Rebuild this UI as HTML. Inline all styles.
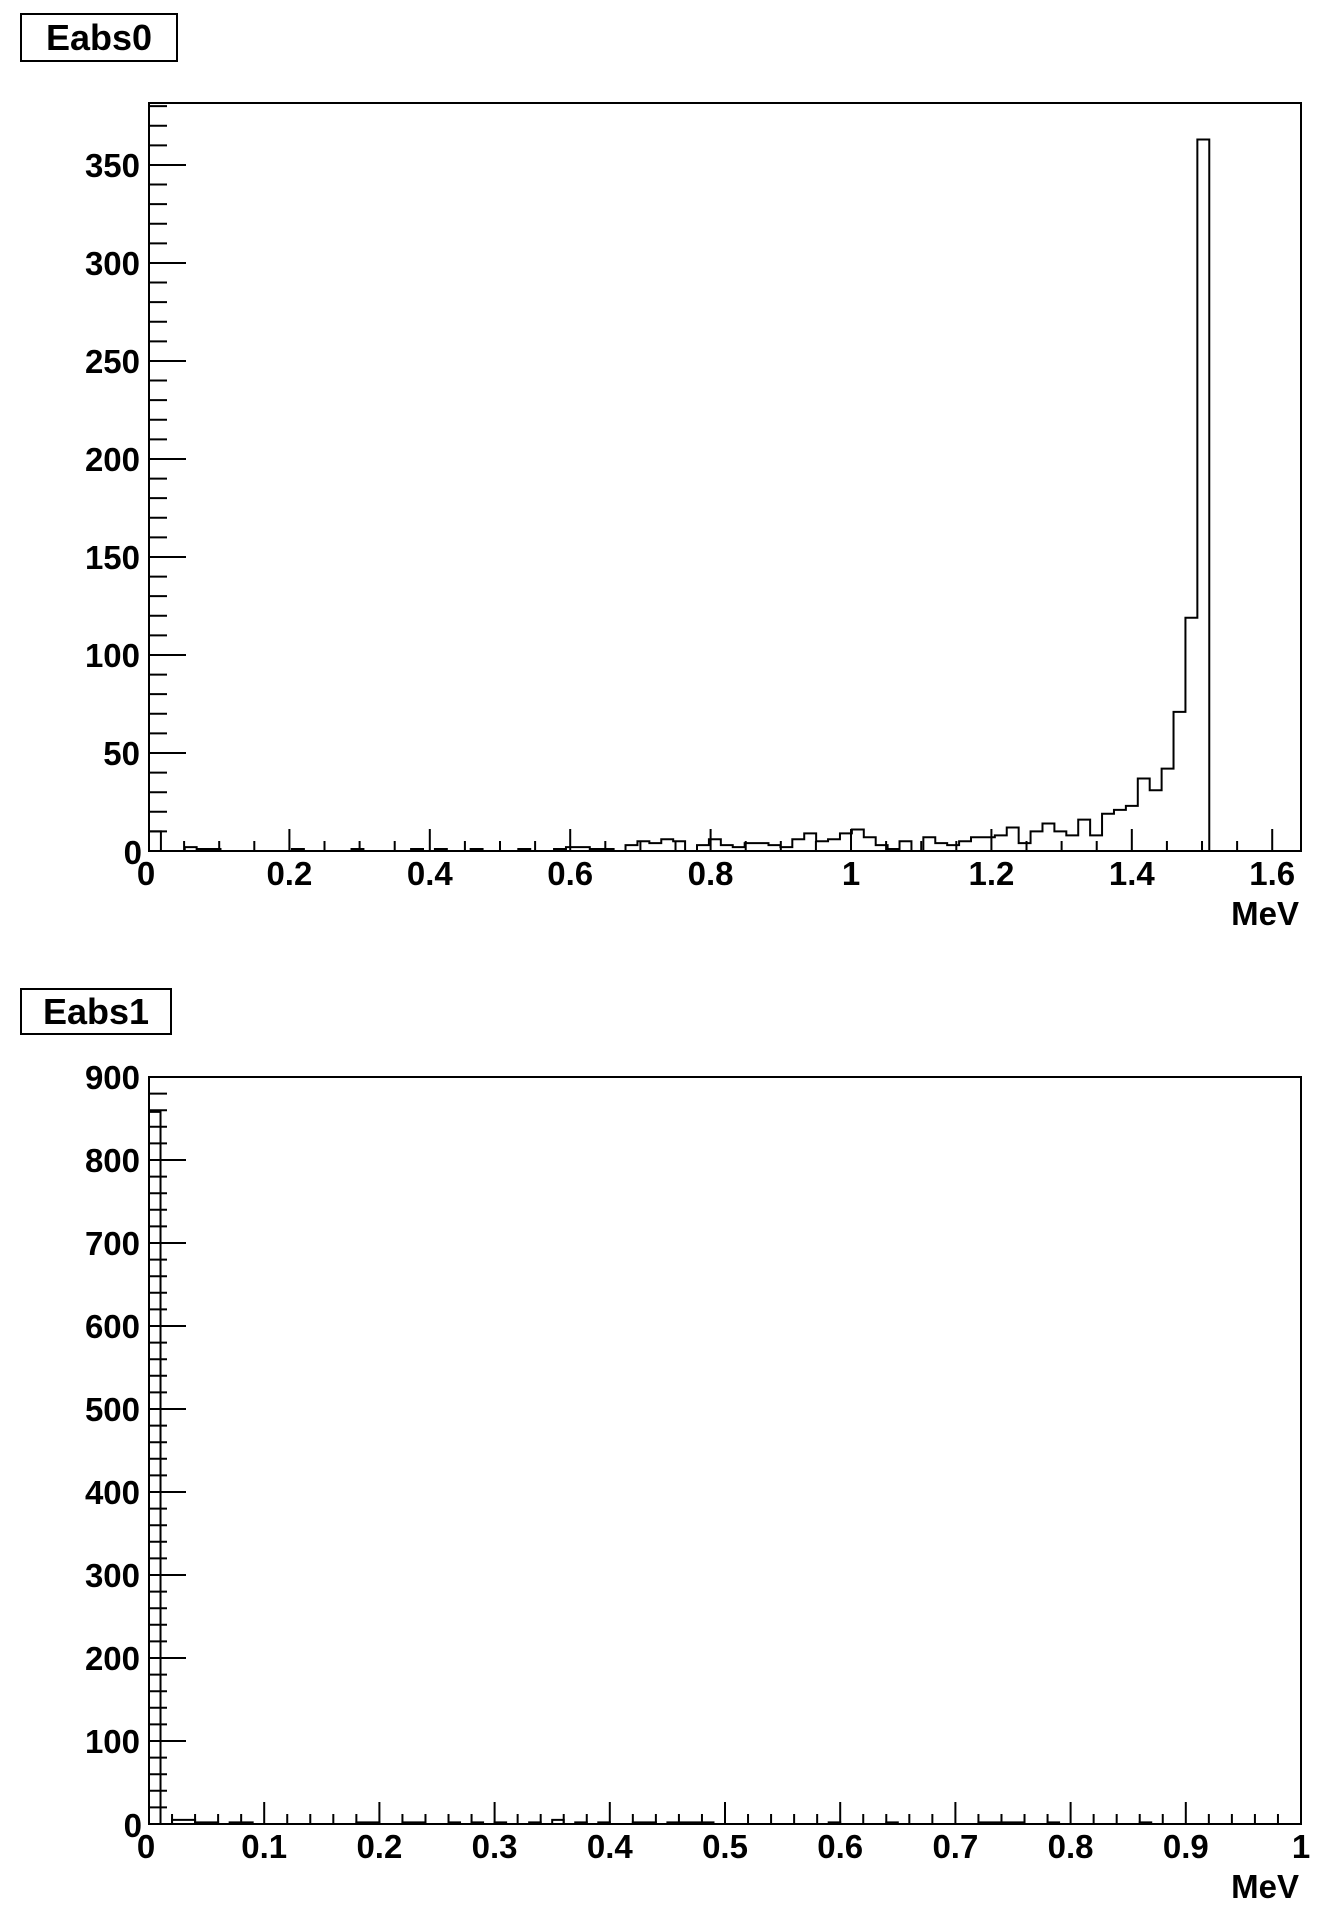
<!DOCTYPE html>
<html><head><meta charset="utf-8"><style>
html,body{margin:0;padding:0;background:#fff;}
svg{display:block;}
text{font-family:"Liberation Sans",Arial,sans-serif;font-weight:bold;fill:#000;}
</style></head><body>
<svg id="chart" width="1336" height="1912" viewBox="0 0 1336 1912" xmlns="http://www.w3.org/2000/svg">
<g>
<rect x="21" y="14" width="156" height="47" fill="#fff" stroke="#000" stroke-width="2"/>
<text x="99" y="50" font-size="36" text-anchor="middle">Eabs0</text>
</g>
<g>
<rect x="21" y="989" width="150" height="45" fill="#fff" stroke="#000" stroke-width="2"/>
<text x="96" y="1024" font-size="36" text-anchor="middle">Eabs1</text>
</g>
<g id="p0"></g>
<g id="p1"></g>
</svg>
<script>
// ---- Eabs0 data ----
const h0BinWidth = 0.01697;
const h0Values = [10,0,0,2,1,1,0,0,0,0,0,0,1,0,0,0,0,1,0,0,0,0,1,0,1,0,0,1,0,0,0,1,0,0,1,2,2,1,1,0,3,5,4,6,5,0,3,6,3,2,4,4,3,2,6,9,5,6,9,11,7,3,1,5,0,7,4,3,5,7,7,8,12,4,10,14,10,8,16,8,19,21,23,37,31,42,71,119,363];
const h0XTicks = [0,0.2,0.4,0.6,0.8,1,1.2,1.4,1.6];
const h0XTickLabels = ["0","0.2","0.4","0.6","0.8","1","1.2","1.4","1.6"];
const h0YTicks = [0,50,100,150,200,250,300,350];
const h0YTickLabels = ["0","50","100","150","200","250","300","350"];
// ---- Eabs1 data ----
const h1BinWidth = 0.01;
const h1Values = [858,0,5,5,2,2,0,2,2,0,0,0,0,0,0,0,0,0,2,2,0,0,2,2,0,0,2,0,2,0,2,0,0,2,0,5,0,2,0,2,0,0,2,2,0,2,2,2,2,0,0,0,0,0,0,0,0,0,0,2,0,0,0,0,2,0,0,0,0,0,0,0,2,2,2,2,0,0,2,0,0,0,0,0,0,0,2,0,0,0,0,0,0,0,0,0,0,0,0,0];
const h1XTicks = [0,0.1,0.2,0.3,0.4,0.5,0.6,0.7,0.8,0.9,1];
const h1XTickLabels = ["0","0.1","0.2","0.3","0.4","0.5","0.6","0.7","0.8","0.9","1"];
const h1YTicks = [0,100,200,300,400,500,600,700,800,900];
const h1YTickLabels = ["0","100","200","300","400","500","600","700","800","900"];

const NS="http://www.w3.org/2000/svg";
function mk(parent,tag,attrs){const e=document.createElementNS(NS,tag);for(const k in attrs)e.setAttribute(k,attrs[k]);parent.appendChild(e);return e;}

function drawPlot(g,cfg){
  const L=149,R=1301,T=cfg.top,B=cfg.bottom;
  const xs=v=>L+(v-cfg.xmin)/(cfg.xmax-cfg.xmin)*(R-L);
  const ys=v=>B-(v-cfg.ymin)/(cfg.ymax-cfg.ymin)*(B-T);
  // histogram
  let d="M"+xs(0)+","+ys(0);
  cfg.values.forEach((v,i)=>{
    const x0=xs(i*cfg.bw),x1=xs((i+1)*cfg.bw);
    d+=" L"+x0+","+ys(v)+" L"+x1+","+ys(v);
  });
  d+=" L"+xs(cfg.values.length*cfg.bw)+","+ys(0);
  const p=mk(g,"path",{d:d,fill:"none",stroke:"#000","stroke-width":"2"});
  
  
  // frame
  const f=mk(g,"rect",{x:L,y:T,width:R-L,height:B-T,fill:"none",stroke:"#000","stroke-width":"2"});
  
  
  // x ticks
  let tk="";
  for(let v=cfg.xmin;v<=cfg.xmax+1e-9;v+=cfg.xminor){
    const x=xs(v);
    const isMaj=Math.abs(v/cfg.xmajor-Math.round(v/cfg.xmajor))<1e-6;
    tk+="M"+x+","+B+" V"+(B-(isMaj?22:10))+" ";
  }
  for(let v=cfg.ymin;v<=cfg.ymax+1e-9;v+=cfg.yminor){
    const y=ys(v);
    const isMaj=Math.abs(v/cfg.ymajor-Math.round(v/cfg.ymajor))<1e-6;
    tk+="M"+L+","+y+" H"+(L+(isMaj?37:18))+" ";
  }
  const t=mk(g,"path",{d:tk,stroke:"#000","stroke-width":"2",fill:"none"});
  
  
  cfg.xticks.forEach((v,i)=>{
    const isZero=v===0;
    const tx=mk(g,"text",{x:xs(v)+(isZero?-3:0),y:B+34,"font-size":"33","text-anchor":"middle"});
    tx.textContent=cfg.xlabels[i];
    
    
  });
  cfg.yticks.forEach((v,i)=>{
    const isZero=v===0;
    const ty=mk(g,"text",{x:isZero?142:140,y:ys(v)+12+(isZero?1:0),"font-size":"33","text-anchor":"end"});
    ty.textContent=cfg.ylabels[i];
    
    
  });
  const xt=mk(g,"text",{x:1299,y:cfg.bottom+74,"font-size":"33","text-anchor":"end"});
  xt.textContent="MeV";
  
  
}
drawPlot(document.getElementById("p0"),{top:103,bottom:851,xmin:0,xmax:1.641,ymin:0,ymax:381.6,bw:h0BinWidth,values:h0Values,
  xticks:h0XTicks,xlabels:h0XTickLabels,yticks:h0YTicks,ylabels:h0YTickLabels,xmajor:0.2,xminor:0.05,ymajor:50,yminor:10});
drawPlot(document.getElementById("p1"),{top:1077,bottom:1824,xmin:0,xmax:1,ymin:0,ymax:900,bw:h1BinWidth,values:h1Values,
  xticks:h1XTicks,xlabels:h1XTickLabels,yticks:h1YTicks,ylabels:h1YTickLabels,xmajor:0.1,xminor:0.02,ymajor:100,yminor:20});
</script>
</body></html>
